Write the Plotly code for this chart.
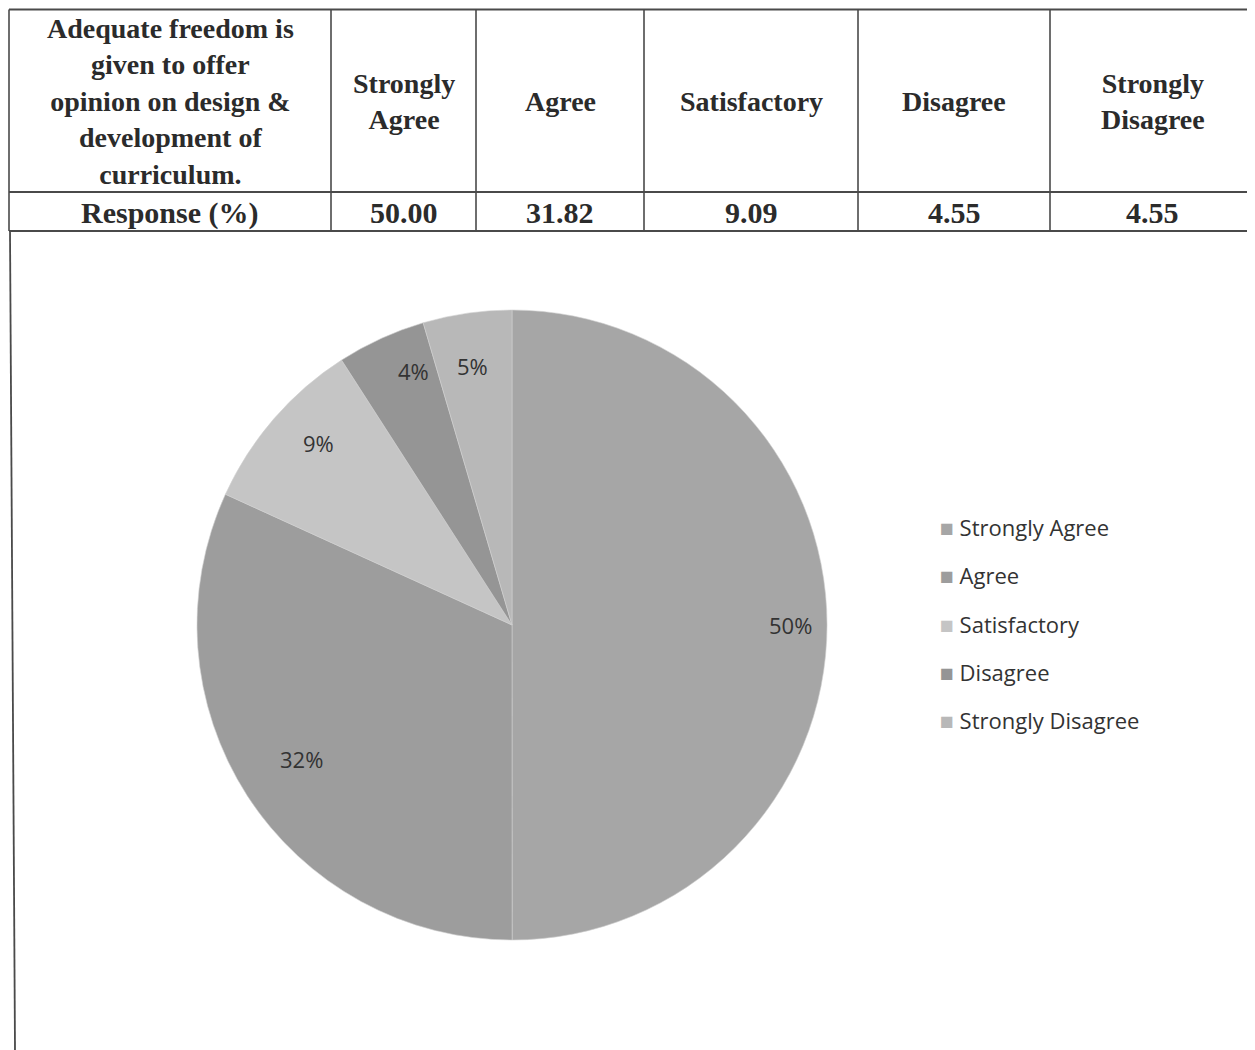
import math
import plotly.graph_objects as go

# Data
question = "Adequate freedom is<br>given to offer<br>opinion on design &amp;<br>development of<br>curriculum."
row_label = "Response (%)"
categories = ["Strongly Agree", "Agree", "Satisfactory", "Disagree", "Strongly Disagree"]
header_labels = ["Strongly<br>Agree", "Agree", "Satisfactory", "Disagree", "Strongly<br>Disagree"]
response_pct = [50.00, 31.82, 9.09, 4.55, 4.55]
slice_labels = ["50%", "32%", "9%", "4%", "5%"]
colors = ["#a6a6a6", "#9d9d9d", "#c5c5c5", "#959595", "#b8b8b8"]

# Page geometry (the html body adds an 8px margin)
OFF = 8
W, H = 1255 - OFF, 1050 - OFF


def fx(x):
    return (x - OFF) / W


def fy(y):
    return 1 - (y - OFF) / H


col_edges = [9, 331, 476, 644, 858, 1050, 1262]
row_edges = [9.5, 192, 231]
line_col = "#4a4a4a"
text_col = "#2b2b2b"

fig = go.Figure()

# Pie chart
pie_x = [fx(197), fx(827)]
pie_y = [fy(940), fy(310)]
fig.add_trace(go.Pie(
    labels=categories,
    values=response_pct,
    sort=False,
    direction="clockwise",
    rotation=0,
    marker=dict(colors=colors, line=dict(color="#d0d0d0", width=0.6)),
    textinfo="none",
    hoverinfo="label+percent",
    showlegend=False,
    domain=dict(x=pie_x, y=pie_y),
))

annotations = []
shapes = []

# Table: header texts and response values
header_cells = [question] + header_labels
value_cells = [row_label] + [f"{v:.2f}" for v in response_pct]
for i in range(len(header_cells)):
    xc = (col_edges[i] + min(col_edges[i + 1], 1255)) / 2
    annotations.append(dict(
        x=fx(xc), y=fy((row_edges[0] + row_edges[1]) / 2 + 1), xref="paper", yref="paper",
        text=header_cells[i], showarrow=False, align="center", valign="middle",
        xanchor="center", yanchor="middle",
        font=dict(family="Liberation Serif", size=28, color=text_col, weight="bold"),
    ))
    annotations.append(dict(
        x=fx(xc), y=fy((row_edges[1] + row_edges[2]) / 2 + 1), xref="paper", yref="paper",
        text=value_cells[i], showarrow=False,
        xanchor="center", yanchor="middle",
        font=dict(family="Liberation Serif", size=30, color=text_col, weight="bold"),
    ))

# Table grid lines
for ye in row_edges:
    shapes.append(dict(type="line", xref="paper", yref="paper",
                       x0=fx(col_edges[0]), x1=fx(1262), y0=fy(ye), y1=fy(ye),
                       line=dict(color=line_col, width=2)))
for xe in col_edges[:-1]:
    shapes.append(dict(type="line", xref="paper", yref="paper",
                       x0=fx(xe), x1=fx(xe), y0=fy(row_edges[0]), y1=fy(row_edges[-1]),
                       line=dict(color=line_col, width=1.6)))
shapes.append(dict(type="line", xref="paper", yref="paper",
                   x0=fx(1253), x1=fx(1253), y0=fy(row_edges[0]), y1=fy(row_edges[-1]),
                   line=dict(color=line_col, width=1.6)))
# Outer frame of the chart cell
shapes.append(dict(type="line", xref="paper", yref="paper",
                   x0=fx(10), x1=fx(15), y0=fy(row_edges[-1]), y1=fy(1050),
                   line=dict(color=line_col, width=1.8)))
shapes.append(dict(type="line", xref="paper", yref="paper",
                   x0=fx(1253), x1=fx(1253), y0=fy(row_edges[-1]), y1=fy(420),
                   line=dict(color="#9a9a9a", width=1.2)))

# Slice labels placed near the rim at each slice's mid angle
cx = (197 + 827) / 2
cy = (310 + 940) / 2
R = (827 - 197) / 2
total = sum(response_pct)
cum = 0
for v, lab in zip(response_pct, slice_labels):
    theta = 2 * math.pi * (cum + v / 2) / total
    cum += v
    annotations.append(dict(
        x=fx(cx + 0.885 * R * math.sin(theta)), y=fy(cy - 0.885 * R * math.cos(theta)),
        xref="paper", yref="paper", text=lab, showarrow=False,
        font=dict(family="Open Sans", size=22, color="#333333"),
    ))

# Legend entries
for i, (lab, c) in enumerate(zip(categories, colors)):
    annotations.append(dict(
        x=fx(938), y=fy(527 + i * 48.3), xref="paper", yref="paper",
        xanchor="left", yanchor="middle",
        text=f"<span style='color:{c};font-size:23px'>■</span> {lab}",
        showarrow=False,
        font=dict(family="Open Sans", size=22, color="#333333"),
    ))

fig.update_layout(
    width=W, height=H,
    margin=dict(l=0, r=0, t=0, b=0),
    paper_bgcolor="white",
    annotations=annotations,
    shapes=shapes,
)

fig.write_html("out.html")
